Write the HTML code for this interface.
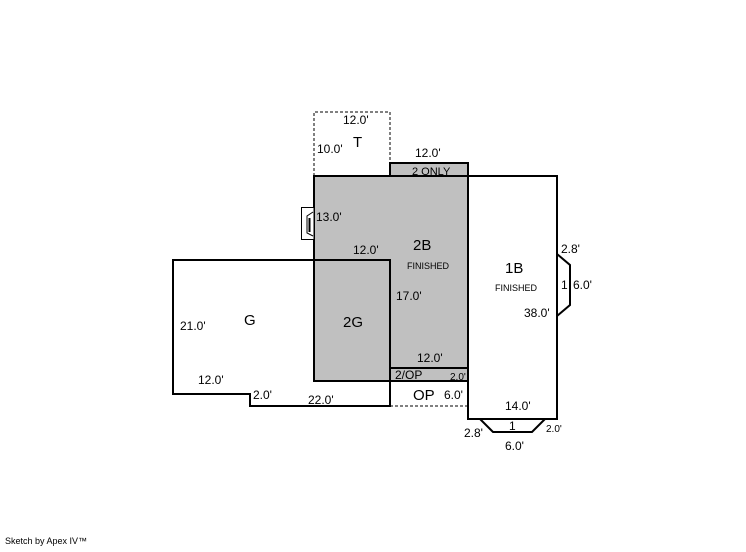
<!DOCTYPE html>
<html><head><style>
html,body{margin:0;padding:0;background:#fff;}
svg text{font-family:"Liberation Sans",Arial,sans-serif;fill:#000;}
</style></head><body>
<svg width="746" height="547" viewBox="0 0 746 547" xmlns="http://www.w3.org/2000/svg">
<rect width="746" height="547" fill="#fff"/>
<!-- T dashed -->
<path d="M314 176 V112 H390 V163" fill="none" stroke="#000" stroke-width="1" stroke-dasharray="3,2"/>
<!-- gray areas -->
<rect x="314" y="176" width="154" height="205" fill="#c0c0c0"/>
<rect x="390" y="163" width="78" height="13" fill="#c0c0c0"/>
<g fill="none" stroke="#000" stroke-width="2">
<rect x="390" y="163" width="78" height="13"/>
<rect x="314" y="176" width="154" height="205"/>
<line x1="390" y1="368" x2="468" y2="368"/>
<!-- 1B -->
<path d="M468 176 H557 V419 H468 Z"/>
<path d="M557 254 L570 265 V305 L557 316"/>
<path d="M480 419 L493 432 H532 L545 419"/>
<!-- G -->
<path d="M314 260 H173 V394 H250 V406 H390 V260 H314"/>
</g>
<path d="M390 406 H468" stroke="#000" stroke-width="1" stroke-dasharray="3,2"/>
<!-- fireplace -->
<rect x="301.5" y="207.5" width="12.5" height="32" fill="#fff" stroke="#000" stroke-width="1"/>
<path d="M313 212 L307 216 V233 L313 236" fill="none" stroke="#000" stroke-width="1"/>
<line x1="309.5" y1="218" x2="309.5" y2="232" stroke="#000" stroke-width="2"/>
<g font-size="12">
<text x="343" y="124">12.0'</text>
<text x="353" y="147" font-size="15">T</text>
<text x="317" y="153">10.0'</text>
<text x="415" y="157">12.0'</text>
<text x="412" y="175" font-size="11">2 ONLY</text>
<text x="316" y="221">13.0'</text>
<text x="353" y="254">12.0'</text>
<text x="413" y="250" font-size="15">2B</text>
<text x="407" y="269" font-size="9">FINISHED</text>
<text x="396" y="300">17.0'</text>
<text x="343" y="327" font-size="15">2G</text>
<text x="244" y="325" font-size="15">G</text>
<text x="180" y="330">21.0'</text>
<text x="198" y="384">12.0'</text>
<text x="253" y="399">2.0'</text>
<text x="308" y="404">22.0'</text>
<text x="417" y="362">12.0'</text>
<text x="395" y="379">2/OP</text>
<text x="450" y="380" font-size="10">2.0'</text>
<text x="413" y="400" font-size="15">OP</text>
<text x="444" y="399">6.0'</text>
<text x="505" y="273" font-size="15">1B</text>
<text x="495" y="291" font-size="9">FINISHED</text>
<text x="561" y="253">2.8'</text>
<text x="561" y="289">1</text>
<text x="573" y="289">6.0'</text>
<text x="524" y="317">38.0'</text>
<text x="505" y="410">14.0'</text>
<text x="509" y="430">1</text>
<text x="464" y="437">2.8'</text>
<text x="546" y="432" font-size="10">2.0'</text>
<text x="505" y="450">6.0'</text>
<text x="5" y="544" font-size="9">Sketch by Apex IV™</text>
</g>
</svg>
</body></html>
